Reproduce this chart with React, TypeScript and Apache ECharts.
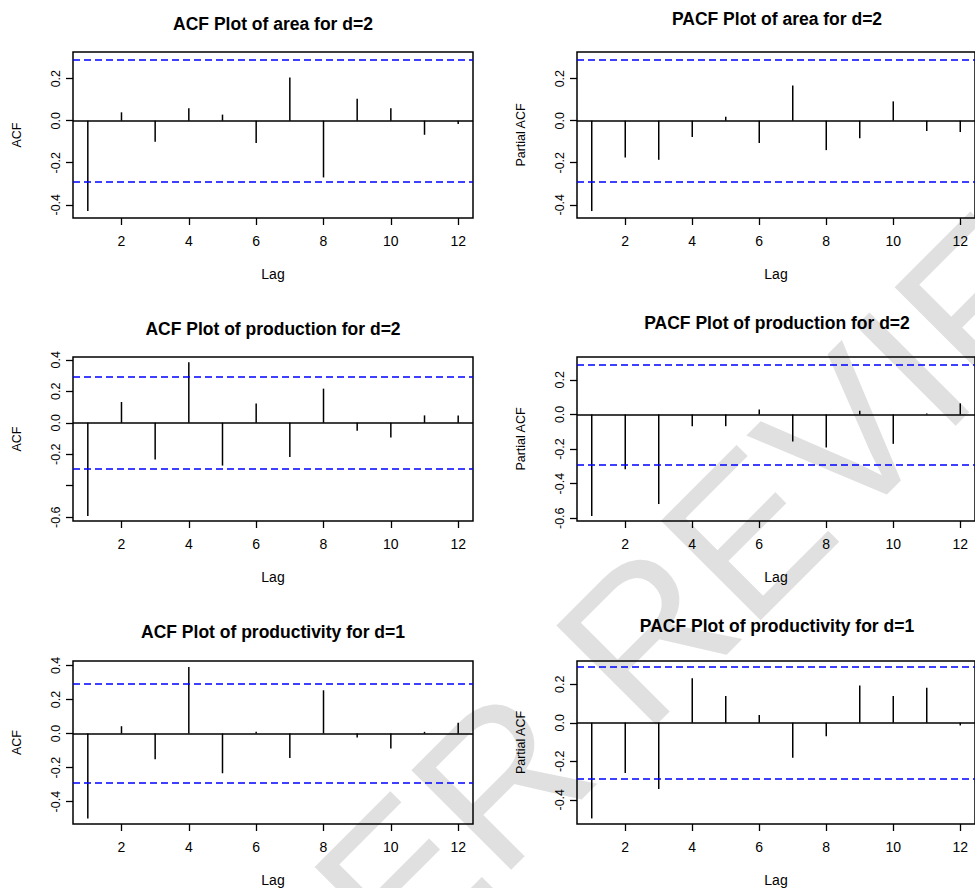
import React, { useEffect, useRef } from "react";
import * as echarts from "echarts";

// ---- data ----
const lags = [1, 2, 3, 4, 5, 6, 7, 8, 9, 10, 11, 12];

const acfArea = [-0.43, 0.04, -0.1, 0.059, 0.029, -0.106, 0.206, -0.27, 0.105, 0.059, -0.067, -0.016];
const pacfArea = [-0.43, -0.175, -0.186, -0.078, 0.019, -0.106, 0.167, -0.14, -0.084, 0.092, -0.049, -0.054];
const acfProduction = [-0.592, 0.132, -0.234, 0.384, -0.272, 0.123, -0.217, 0.217, -0.051, -0.093, 0.047, 0.047];
const pacfProduction = [-0.587, -0.317, -0.518, -0.068, -0.068, 0.029, -0.157, -0.191, 0.021, -0.17, 0.006, 0.064];
const acfProductivity = [-0.498, 0.043, -0.151, 0.391, -0.233, 0.01, -0.143, 0.254, -0.023, -0.087, 0.01, 0.064];
const pacfProductivity = [-0.497, -0.261, -0.344, 0.232, 0.139, 0.04, -0.182, -0.07, 0.194, 0.139, 0.182, -0.014];

const confLimit = 0.292;

const titles = [
  "ACF Plot of area for d=2",
  "PACF Plot of area for d=2",
  "ACF Plot of production for d=2",
  "PACF Plot of production for d=2",
  "ACF Plot of productivity for d=1",
  "PACF Plot of productivity for d=1",
];
const yNames = ["ACF", "Partial ACF", "ACF", "Partial ACF", "ACF", "Partial ACF"];
const seriesValues = [acfArea, pacfArea, acfProduction, pacfProduction, acfProductivity, pacfProductivity];

const xTicks = [2, 4, 6, 8, 10, 12];
const yTicks = [
  [-0.4, -0.2, 0, 0.2],
  [-0.4, -0.2, 0, 0.2],
  [-0.6, -0.4, -0.2, 0, 0.2, 0.4],
  [-0.6, -0.4, -0.2, 0, 0.2],
  [-0.4, -0.2, 0, 0.2, 0.4],
  [-0.4, -0.2, 0, 0.2],
];
const yTickLabels = [
  [-0.4, -0.2, 0, 0.2],
  [-0.4, -0.2, 0, 0.2],
  [-0.6, -0.2, 0, 0.2, 0.4],
  [-0.6, -0.4, -0.2, 0, 0.2],
  [-0.4, -0.2, 0, 0.2, 0.4],
  [-0.4, -0.2, 0, 0.2],
];
const yMin = [-0.463, -0.463, -0.624, -0.616, -0.531, -0.526];
const yMax = [0.327, 0.327, 0.418, 0.332, 0.426, 0.321];
const xMin = 0.56;
const xMax = 12.44;

const watermarkText = "PEER REVIEW";

// ---- layout ----
const colLeft = [73, 577];
const plotWidth = 400;
const rowTop = [52, 357, 661];
const rowHeight = [166, 164, 165];
const titleCenterY = [
  [25, 20],
  [330, 324],
  [633, 627],
];

const FONT = '"Liberation Sans", Arial, Helvetica, sans-serif';

function buildOption() {
  const grid: any[] = [];
  const xAxis: any[] = [];
  const yAxis: any[] = [];
  const series: any[] = [];
  const title: any[] = [];

  for (let i = 0; i < 6; i++) {
    const row = Math.floor(i / 2);
    const col = i % 2;
    const left = colLeft[col];
    const top = rowTop[row];
    grid.push({
      left,
      top,
      width: plotWidth,
      height: rowHeight[row],
      show: true,
      borderColor: "#000",
      borderWidth: 1.5,
      backgroundColor: "transparent",
      containLabel: false,
    });
    title.push({
      text: titles[i],
      left: left + plotWidth / 2,
      top: titleCenterY[row][col] - 10,
      textAlign: "center",
      padding: 0,
      textStyle: { fontFamily: FONT, fontSize: 17.5, fontWeight: "bold", color: "#000" },
    });
    xAxis.push({
      type: "value",
      gridIndex: i,
      min: xMin,
      max: xMax,
      name: "Lag",
      nameLocation: "middle",
      nameGap: 49,
      nameTextStyle: { fontFamily: FONT, fontSize: 14, color: "#000" },
      axisLine: { show: false, onZero: false },
      splitLine: { show: false },
      axisTick: {
        show: true,
        length: 7,
        customValues: xTicks,
        lineStyle: { color: "#000", width: 1.3 },
      },
      axisLabel: {
        customValues: xTicks,
        margin: 16,
        fontFamily: FONT,
        fontSize: 14,
        color: "#000",
        formatter: (v: number) => String(v),
      },
    });
    yAxis.push({
      type: "value",
      gridIndex: i,
      min: yMin[i],
      max: yMax[i],
      name: yNames[i],
      nameLocation: "middle",
      nameGap: 50,
      nameTextStyle: { fontFamily: FONT, fontSize: 12.5, color: "#000" },
      axisLine: { show: false, onZero: false },
      splitLine: { show: false },
      axisTick: {
        show: true,
        length: 7,
        customValues: yTicks[i],
        lineStyle: { color: "#000", width: 1.3 },
      },
      axisLabel: {
        customValues: yTickLabels[i],
        rotate: 90,
        margin: 11,
        fontFamily: FONT,
        fontSize: 12.5,
        color: "#000",
        formatter: (v: number) => (Math.abs(v) < 1e-9 ? "0.0" : v.toFixed(1)),
      },
    });
    const vals = seriesValues[i];
    series.push({
      type: "custom",
      xAxisIndex: i,
      yAxisIndex: i,
      clip: false,
      z: 3,
      data: lags.map((l, k) => [l, vals[k]]),
      renderItem: (params: any, api: any) => {
        const p0 = api.coord([api.value(0), 0]);
        const p1 = api.coord([api.value(0), api.value(1)]);
        return {
          type: "line",
          shape: { x1: p0[0], y1: p0[1], x2: p1[0], y2: p1[1] },
          style: { stroke: "#000", lineWidth: 1.5 },
        };
      },
      markLine: {
        silent: true,
        symbol: ["none", "none"],
        label: { show: false },
        animation: false,
        data: [
          { yAxis: 0, lineStyle: { color: "#000", type: "solid", width: 1.6 } },
          { yAxis: confLimit, lineStyle: { color: "#0000ff", type: [7, 4], width: 1.5 } },
          { yAxis: -confLimit, lineStyle: { color: "#0000ff", type: [7, 4], width: 1.5 } },
        ],
      },
    });
  }

  return {
    animation: false,
    backgroundColor: "#fff",
    textStyle: { fontFamily: FONT },
    title,
    grid,
    xAxis,
    yAxis,
    series,
    graphic: [
      {
        type: "text",
        z: -10,
        x: 662,
        y: 618,
        rotation: (45 * Math.PI) / 180,
        silent: true,
        style: {
          text: watermarkText,
          font: `205px ${FONT}`,
          fill: "#e0e0e0",
          textAlign: "center",
          textVerticalAlign: "middle",
        },
      },
    ],
  };
}

export default function App() {
  const ref = useRef<HTMLDivElement>(null);
  useEffect(() => {
    if (!ref.current) return;
    const chart = echarts.init(ref.current, null, { renderer: "svg" });
    chart.setOption(buildOption() as any);
    return () => chart.dispose();
  }, []);
  return (
    <div
      ref={ref}
      style={{ position: "absolute", left: 0, top: 0, width: 975, height: 888, background: "#fff" }}
    />
  );
}
